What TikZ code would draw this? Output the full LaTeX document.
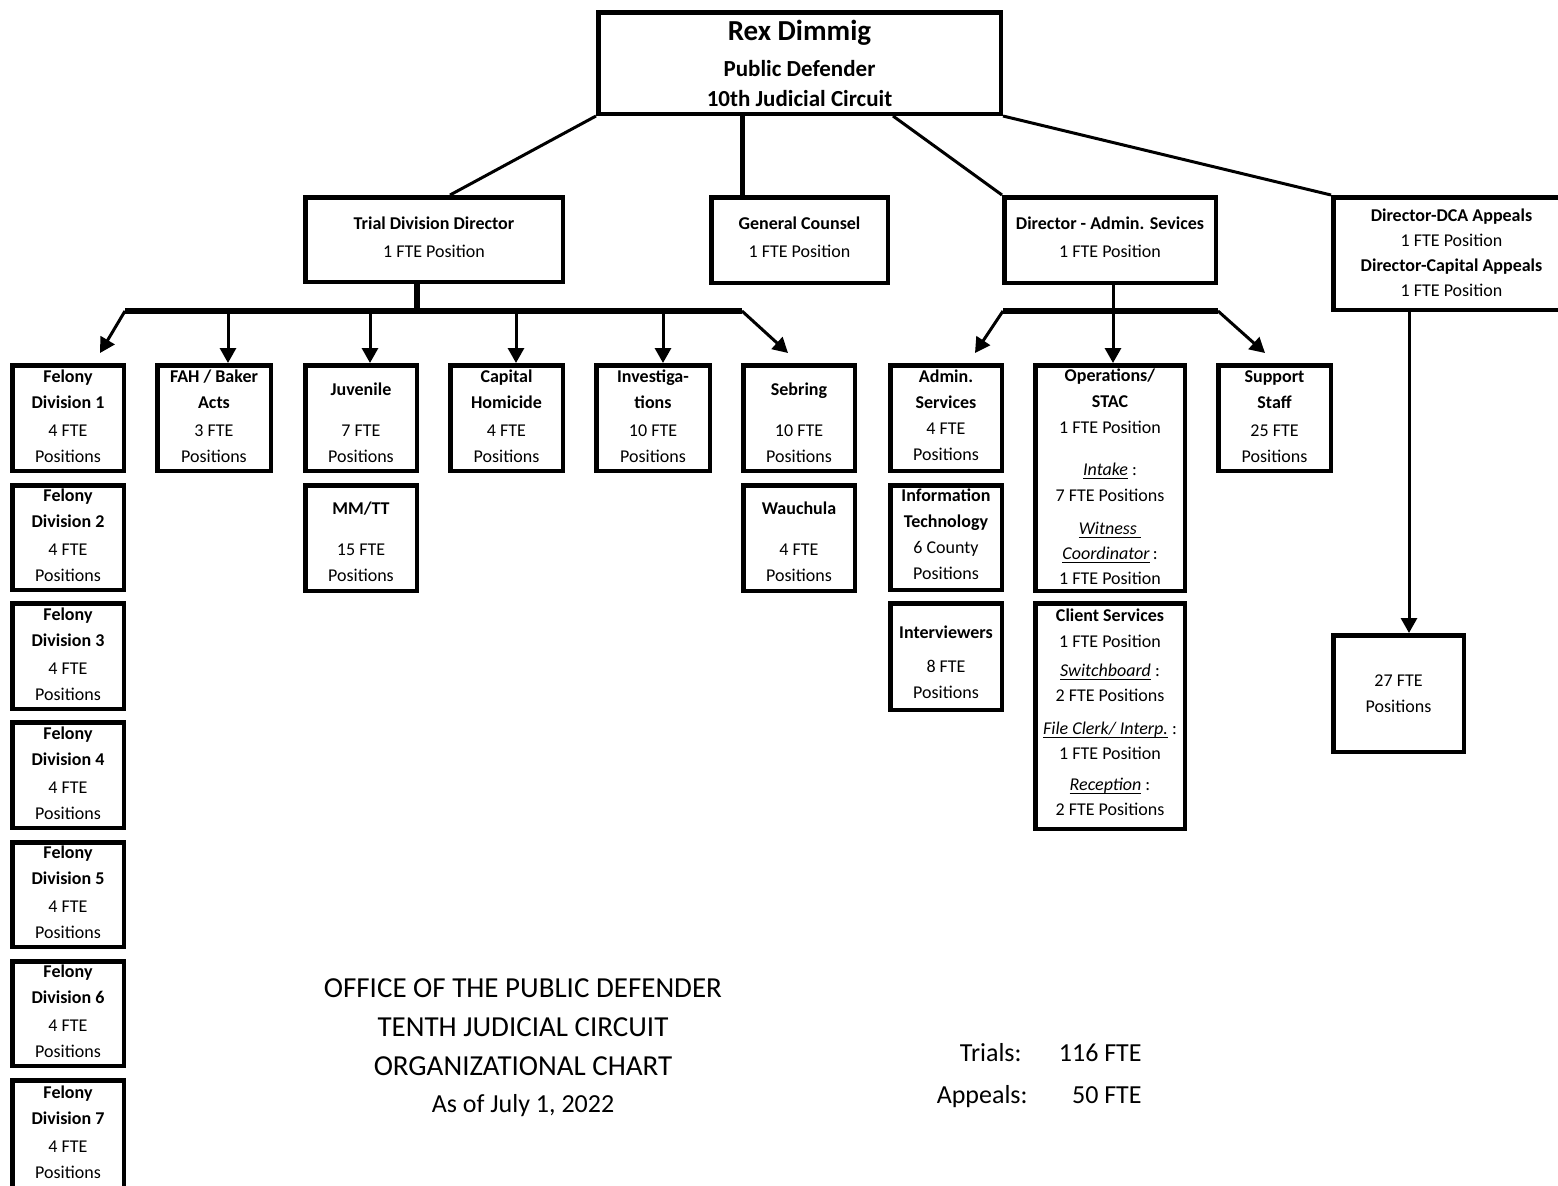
\documentclass[tikz,border=0pt]{standalone}
\usepackage{fontspec}
\setmainfont{Carlito}
\usetikzlibrary{arrows.meta,calc}

\tikzset{
  orgbox/.style={draw, line width=2.25pt, inner sep=0pt},
  boxtext/.style={align=center, inner sep=0pt, font=\fontsize{9}{13}\selectfont},
  link/.style={line width=1.5pt},
  bus/.style={line width=2.75pt},
  arr/.style={line width=1.5pt, -{Triangle[length=7.5pt,width=8pt]}},
  total/.style={anchor=base east, inner sep=0pt, font=\fontsize{13}{15}\selectfont},
}
% box given by its outer edges (px units): [text shift], name, x1, y1, x2, y2, text
\newcommand\unitbox[6][0]{%
  \node[orgbox, minimum width={(#5-#3-4.5)*0.5pt}, minimum height={(#6-#4-4.5)*0.5pt}]
    (#2) at ({(#3+#5)/2},{(#4+#6)/2}) {};
  \node[boxtext] (#2-text) at ($(#2.center)+(0,#1)$) {\unitboxtext};}
\newcommand\unitboxtext{}
\newcommand\setunit[1]{\renewcommand\unitboxtext{#1}}
% underlined italic label
\newsavebox\ulitbox
\newcommand\ulit[1]{\sbox\ulitbox{\textit{#1}}\rlap{\rule[-1.7pt]{\wd\ulitbox}{0.45pt}}\usebox\ulitbox}

\begin{document}
\begin{tikzpicture}[x=0.5pt,y=-0.5pt]
\useasboundingbox (0,0) rectangle (1558,1185);

% ---- head of office
\node[orgbox, align=center, minimum width={(1003-596-4.5)*0.5pt}, minimum height={(116-10-4.5)*0.5pt},
      font=\bfseries\fontsize{11.5}{15}\selectfont]
  (pd) at ({(596+1003)/2},{(10+116)/2})
  {{\fontsize{14.5}{15}\selectfont Rex Dimmig}\\[3pt]Public Defender\\10th Judicial Circuit};

% ---- directors
\setunit{\textbf{Trial Division Director}\\[1pt]1 FTE Position}
\unitbox[-2]{trial}{303}{195}{565}{284}{}
\setunit{\textbf{General Counsel}\\[1pt]1 FTE Position}
\unitbox[-3]{gc}{709}{195}{890}{285}{}
\setunit{\textbf{Director - Admin. Sevices}\\[1pt]1 FTE Position}
\unitbox[-3]{adm}{1002}{195}{1218}{285}{}
\setunit{\textbf{Director-DCA Appeals}\\[-0.5pt]1 FTE Position\\[-0.5pt]
  \textbf{Director-Capital Appeals}\\[-0.5pt]1 FTE Position}
\unitbox[-1]{dca}{1331}{195}{1572}{312}{}

% ---- trial units
\foreach \i/\ya/\yb in {1/363/473, 2/483/592, 3/601/711, 4/720/830, 5/840/949, 6/959/1068, 7/1078/1190}
  {\setunit{\textbf{Felony}\\\textbf{Division \i}\\[1pt]4 FTE\\Positions}
   \unitbox[-2]{fel\i}{10}{\ya}{126}{\yb}{}}
\setunit{\textbf{FAH / Baker}\\\textbf{Acts}\\[1pt]3 FTE\\Positions}
\unitbox[-2]{fah}{155}{363}{273}{473}{}
\setunit{\textbf{Juvenile}\\[7.5pt]7 FTE\\Positions}
\unitbox[5]{juv}{303}{363}{419}{473}{}
\setunit{\textbf{MM/TT}\\[7.5pt]15 FTE\\Positions}
\unitbox[4]{mmtt}{303}{483}{419}{593}{}
\setunit{\textbf{Capital}\\\textbf{Homicide}\\[1pt]4 FTE\\Positions}
\unitbox[-2]{cap}{448}{363}{565}{473}{}
\setunit{\textbf{Investiga-}\\\textbf{tions}\\[1pt]10 FTE\\Positions}
\unitbox[-2]{inv}{594}{363}{712}{473}{}
\setunit{\textbf{Sebring}\\[7.5pt]10 FTE\\Positions}
\unitbox[5]{seb}{741}{363}{857}{473}{}
\setunit{\textbf{Wauchula}\\[7.5pt]4 FTE\\Positions}
\unitbox[4]{wau}{741}{483}{857}{593}{}

% ---- administrative units
\setunit{\textbf{Admin.}\\\textbf{Services}\\4 FTE\\Positions}
\unitbox[-3]{as}{888}{363}{1004}{473}{}
\setunit{\textbf{Information}\\\textbf{Technology}\\6 County\\Positions}
\unitbox[-3]{it}{888}{483}{1004}{592}{}
\setunit{\textbf{Interviewers}\\[4pt]8 FTE\\Positions}
\unitbox[5.5]{intv}{888}{601}{1004}{712}{}
\setunit{\textbf{Operations/}\\\textbf{STAC}\\1 FTE Position\\[8pt]
  \ulit{Intake} :\\7 FTE Positions\\[3.5pt]\ulit{Witness\ }\\[-0.5pt]\ulit{Coordinator}\,:\\[-0.5pt]1 FTE Position}
\unitbox[-1.5]{ops}{1033}{363}{1187}{593}{}
\setunit{\textbf{Client Services}\\1 FTE Position\\[1.5pt]
  \ulit{Switchboard} :\\[-0.5pt]2 FTE Positions\\[3.5pt]\ulit{File Clerk/ Interp.} :\\[-0.5pt]1 FTE Position\\[2.5pt]
  \ulit{Reception} :\\[-0.5pt]2 FTE Positions}
\unitbox[-3.5]{cs}{1033}{601}{1187}{831}{}
\setunit{\textbf{Support}\\\textbf{Staff}\\[1pt]25 FTE\\Positions}
\unitbox[-1.5]{sup}{1216}{363}{1333}{473}{}

% ---- appeals staff
\setunit{27 FTE\\Positions}
\unitbox[0]{app}{1331}{633}{1466}{754}{}

% ---- connectors from the head of office
\draw[link] (pd.south west) -- ($(trial.north)+(16,0)$);
\draw[line width=2.5pt] ($(pd.south)+(-57.5,0)$) -- ($(gc.north)+(-57.5,0)$);
\draw[link] ($(pd.south)+(93.5,0)$) -- (adm.north west);
\draw[link] (pd.south east) -- (dca.north west);

% ---- trial division bus
\coordinate (tbL) at (125,311);
\coordinate (tbR) at (742,311);
\coordinate (tbJ) at (417,311);
\draw[bus] (tbL) -- (tbR);
\draw[bus] (tbJ) -- (tbJ |- trial.south);
\draw[arr] (tbL) -- ($(fel1.north)+(32,-10)$);
\draw[arr] ($(fah.north |- tbL)+(14,0)$) -- ($(fah.north)+(14,0)$);
\draw[arr] ($(juv.north |- tbL)+(9,0)$) -- ($(juv.north)+(9,0)$);
\draw[arr] ($(cap.north |- tbL)+(9.5,0)$) -- ($(cap.north)+(9.5,0)$);
\draw[arr] ($(inv.north |- tbL)+(10,0)$) -- ($(inv.north)+(10,0)$);
\draw[arr] (tbR) -- ($(seb.north)+(-11,-10)$);

% ---- administrative services bus
\coordinate (abL) at (1003,311);
\coordinate (abR) at (1218,311);
\draw[bus] (abL) -- (abR);
\draw[arr] ($(adm.south)+(3,0)$) -- ($(ops.north)+(3,0)$);
\draw[arr] (abL) -- ($(as.north)+(29,-10)$);
\draw[arr] (abR) -- ($(sup.north)+(-9.5,-10)$);

% ---- appeals
\coordinate (dcaOut) at ($(dca.south)+(-42.5,0)$);
\draw[arr] (dcaOut) -- (dcaOut |- app.north);

% ---- title block and totals
\node[align=center, font=\fontsize{14.5}{19.5}\selectfont] (title) at (523,1048)
  {OFFICE OF THE PUBLIC DEFENDER\\TENTH JUDICIAL CIRCUIT\\ORGANIZATIONAL CHART\\[-1pt]
   {\fontsize{13}{19.5}\selectfont As of July 1, 2022}};
\node[total] (trl) at (1022,1061) {Trials:};
\node[total] (trn) at (1142,1061) {116 FTE};
\node[total] (apl) at (1028,1103) {Appeals:};
\node[total] (apn) at (1142,1103) {50 FTE};
\end{tikzpicture}
\end{document}
